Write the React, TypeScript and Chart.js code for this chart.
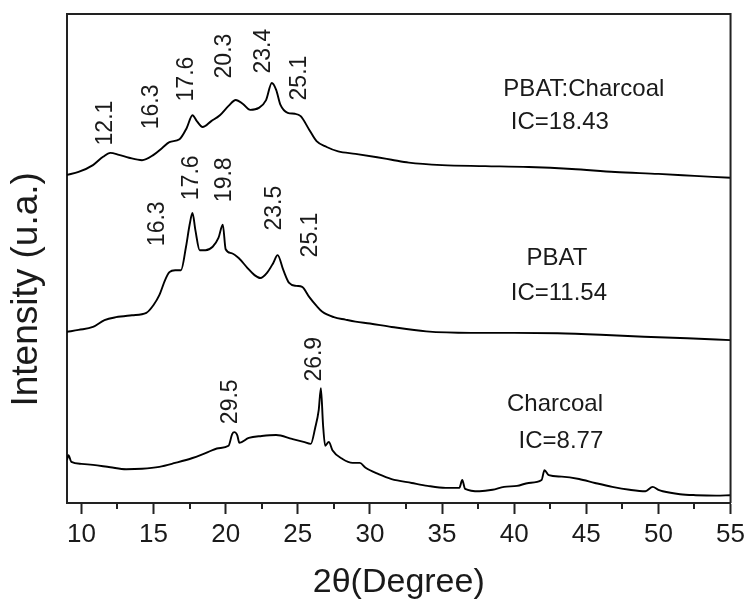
import React, { useEffect, useRef } from "react";
import { Chart, registerables } from "chart.js";

Chart.register(...registerables);

// ---- Data (2θ in degrees, intensity in arbitrary units, stacked offsets) ----
const xTickLabels = [10, 15, 20, 25, 30, 35, 40, 45, 50, 55];
const xMinorTicks = [12.5, 17.5, 22.5, 27.5, 32.5, 37.5, 42.5, 47.5, 52.5];

const compositeAngle = [
  9.0, 9.8, 10.8, 11.5, 12.0, 12.6, 13.3, 14.2, 15.0, 15.6, 16.1, 16.8, 17.3, 17.7, 18.0, 18.4,
  19.0, 19.6, 20.2, 20.7, 21.2, 21.7, 22.3, 22.8, 23.2, 23.5, 23.8, 24.3, 24.8, 25.2, 25.8, 26.3,
  27.0, 27.8, 29.0, 30.5, 31.5, 32.7, 35.0, 38.0, 41.0, 44.0, 47.0, 50.0, 52.5, 55.0,
];
const compositeIntensity = [
  67.1, 67.7, 69.1, 70.8, 71.6, 71.2, 70.6, 70.1, 71.2, 72.6, 73.8, 74.4, 76.7, 79.3, 78.1, 76.9,
  78.1, 79.3, 81.2, 82.4, 81.6, 80.4, 80.8, 82.4, 85.9, 84.5, 81.4, 79.8, 79.6, 79.1, 76.3, 74.0,
  72.8, 71.9, 71.4, 70.7, 70.2, 69.6, 69.1, 68.9, 68.7, 68.3, 67.7, 67.3, 66.9, 66.5,
];

const pbatAngle = [
  9.0, 9.8, 10.8, 11.6, 12.4, 13.5, 14.5, 15.0, 15.4, 15.8, 16.1, 16.5, 16.9, 17.25, 17.5, 17.7,
  17.9, 18.2, 18.6, 19.1, 19.5, 19.8, 20.0, 20.4, 20.9, 21.5, 22.0, 22.4, 22.9, 23.3, 23.6, 24.0,
  24.4, 24.9, 25.3, 25.8, 26.3, 26.7, 27.5, 28.3, 29.0, 30.0, 31.5, 33.9, 37.0, 40.0, 43.0, 46.0,
  49.0, 52.0, 55.0,
];
const pbatIntensity = [
  35.0, 35.4, 36.0, 37.4, 38.0, 38.4, 38.9, 40.5, 42.5, 45.6, 47.2, 47.6, 47.6, 52.4, 56.9, 59.3,
  55.8, 51.7, 51.7, 52.4, 54.2, 56.9, 51.9, 51.1, 50.1, 48.1, 46.6, 46.0, 47.2, 49.1, 50.7, 47.6,
  45.0, 44.4, 44.2, 42.1, 40.3, 39.1, 38.0, 37.5, 37.1, 36.7, 36.0, 35.1, 34.8, 34.8, 34.7, 34.4,
  34.0, 33.7, 33.3,
];

const charcoalAngle = [
  9.0, 9.1, 9.3, 10.0, 10.8, 12.0, 13.1, 14.2, 15.4, 16.5, 17.7, 18.6, 19.5, 20.2, 20.45, 20.6,
  20.8, 20.95, 21.6, 22.5, 23.5, 24.6, 25.4, 25.9, 26.2, 26.45, 26.6, 26.75, 26.9, 27.15, 27.4,
  28.1, 28.8, 29.3, 29.7, 30.6, 31.5, 32.9, 34.0, 35.25, 36.2, 36.4, 36.6, 37.6, 38.5, 39.3, 40.2,
  41.0, 41.9, 42.1, 42.4, 43.3, 44.5, 45.6, 46.8, 48.0, 49.1, 49.6, 50.0, 50.3, 51.5, 52.6, 54.0,
  55.0,
];
const charcoalIntensity = [
  8.8, 9.8, 8.4, 8.0, 7.8, 7.3, 6.9, 7.0, 7.4, 8.2, 9.2, 10.2, 11.2, 11.7, 14.1, 14.5,
  13.9, 12.3, 13.3, 13.7, 13.9, 13.1, 12.5, 12.1, 15.3, 19.0, 23.5, 16.0, 11.7, 12.5, 10.8,
  9.0, 8.2, 8.2, 7.2, 5.9, 4.9, 4.1, 3.5, 3.1, 3.1, 4.7, 2.9, 2.4, 2.7, 3.3, 3.5,
  4.1, 4.7, 6.7, 5.7, 5.4, 4.9, 4.1, 3.3, 2.7, 2.4, 3.3, 2.7, 2.4, 1.8, 1.6, 1.5,
  1.6,
];

// peak annotations: text, anchor angle, anchor intensity
const peakText = ["12.1", "16.3", "17.6", "20.3", "23.4", "25.1", "16.3", "17.6", "19.8", "23.5", "25.1", "29.5", "26.9"];
const peakAngle = [11.66, 14.85, 17.27, 19.9, 22.6, 25.1, 15.26, 17.65, 19.9, 23.43, 25.86, 20.32, 26.2];
const peakIntensity = [77.7, 81.0, 86.7, 91.4, 92.4, 86.9, 57.1, 66.5, 66.1, 60.3, 54.8, 20.7, 29.4];

// sample annotations
const sampleText = ["PBAT:Charcoal", "IC=18.43", "PBAT", "IC=11.54", "Charcoal", "IC=8.77"];
const sampleAngle = [44.83, 43.17, 42.96, 43.1, 42.83, 43.24];
const sampleIntensity = [84.5, 77.9, 50.1, 42.9, 20.2, 12.7];

const FONT = "'Liberation Sans', Arial, sans-serif";
const INK = "#1a1a1a";

const toPoints = (xs: number[], ys: number[]) => xs.map((x, i) => ({ x, y: ys[i] }));

const annotationPlugin = {
  id: "xrdAnnotations",
  afterDatasetsDraw(chart: any) {
    const { ctx, chartArea, scales } = chart;
    const xs = scales.x;
    const ys = scales.y;
    ctx.save();
    // frame top & right
    ctx.strokeStyle = "#222";
    ctx.lineWidth = 2;
    ctx.beginPath();
    ctx.moveTo(chartArea.left, chartArea.top);
    ctx.lineTo(chartArea.right, chartArea.top);
    ctx.lineTo(chartArea.right, chartArea.bottom);
    ctx.stroke();
    // minor ticks
    ctx.lineWidth = 2;
    ctx.beginPath();
    xMinorTicks.forEach((v) => {
      const px = Math.round(xs.getPixelForValue(v));
      ctx.moveTo(px, chartArea.bottom);
      ctx.lineTo(px, chartArea.bottom + 6);
    });
    ctx.stroke();
    // peak labels (rotated)
    ctx.fillStyle = INK;
    ctx.font = `23px ${FONT}`;
    ctx.textAlign = "center";
    ctx.textBaseline = "middle";
    peakText.forEach((t, i) => {
      const px = xs.getPixelForValue(peakAngle[i]);
      const py = ys.getPixelForValue(peakIntensity[i]);
      ctx.save();
      ctx.translate(px, py);
      ctx.rotate(-Math.PI / 2);
      ctx.fillText(t, 0, 0);
      ctx.restore();
    });
    // sample labels
    ctx.font = `24px ${FONT}`;
    sampleText.forEach((t, i) => {
      const px = xs.getPixelForValue(sampleAngle[i]);
      const py = ys.getPixelForValue(sampleIntensity[i]);
      ctx.fillText(t, px, py);
    });
    ctx.restore();
  },
};

export default function App() {
  const canvasRef = useRef<HTMLCanvasElement | null>(null);

  useEffect(() => {
    document.body.style.margin = "0";
    const canvas = canvasRef.current;
    if (!canvas) return;
    const lineStyle = {
      borderColor: "#000",
      borderWidth: 1.9,
      pointRadius: 0,
      fill: false,
      cubicInterpolationMode: "monotone" as const,
    };
    const chart = new Chart(canvas, {
      type: "line",
      data: {
        datasets: [
          { label: "PBAT:Charcoal", data: toPoints(compositeAngle, compositeIntensity), ...lineStyle },
          { label: "PBAT", data: toPoints(pbatAngle, pbatIntensity), ...lineStyle },
          { label: "Charcoal", data: toPoints(charcoalAngle, charcoalIntensity), ...lineStyle },
        ],
      },
      options: {
        animation: false,
        responsive: false,
        maintainAspectRatio: false,
        layout: { padding: { left: 0, top: 14, right: 18, bottom: 0 } },
        plugins: {
          legend: { display: false },
          tooltip: { enabled: false },
        },
        scales: {
          x: {
            type: "linear",
            min: 9,
            max: 55,
            afterBuildTicks: (scale: any) => {
              scale.ticks = xTickLabels.map((v) => ({ value: v }));
            },
            afterFit: (scale: any) => {
              scale.height = 97;
            },
            grid: {
              display: true,
              drawOnChartArea: false,
              drawTicks: true,
              tickLength: 11,
              tickWidth: 2,
              tickColor: "#222",
            },
            border: { display: true, color: "#222", width: 2 },
            ticks: {
              color: INK,
              font: { family: FONT, size: 26 },
              padding: 5,
              maxRotation: 0,
              autoSkip: false,
              callback: (v: any) => String(v),
            },
            title: {
              display: true,
              text: "2θ(Degree)",
              color: INK,
              font: { family: FONT, size: 34, lineHeight: 1 },
              padding: { top: 0, bottom: 0 },
            },
          },
          y: {
            type: "linear",
            min: 0,
            max: 100,
            afterFit: (scale: any) => {
              scale.width = 67;
            },
            grid: { display: false, drawTicks: false },
            border: { display: true, color: "#222", width: 2 },
            ticks: { display: false },
            title: {
              display: true,
              text: "Intensity (u.a.)      ",
              color: INK,
              font: { family: FONT, size: 37, lineHeight: 1 },
              padding: { top: 8, bottom: 0 },
            },
          },
        },
      },
      plugins: [annotationPlugin],
    });
    return () => chart.destroy();
  }, []);

  return (
    <div style={{ position: "fixed", left: 0, top: 0, width: 750, height: 600, background: "#fff" }}>
      <canvas ref={canvasRef} width={750} height={600} />
    </div>
  );
}
